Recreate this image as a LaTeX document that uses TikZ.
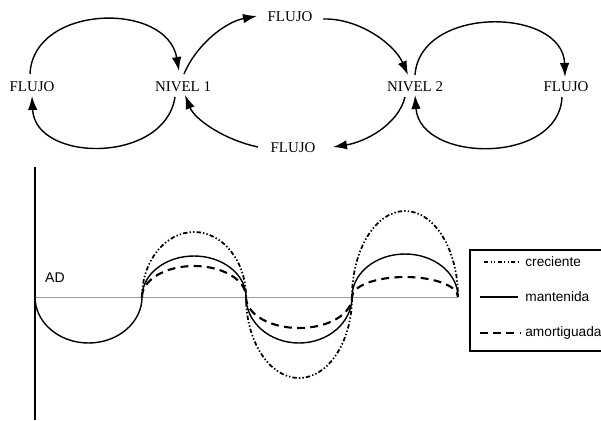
\documentclass[tikz,border=0pt]{standalone}
\usepackage{fontspec}
\setmainfont{Liberation Serif}
\newfontfamily\legendfont{Liberation Sans}
\usetikzlibrary{arrows.meta}

\begin{document}
\begin{tikzpicture}[
    x=0.02cm, y=0.02cm,
    every node/.style={font=\fontsize{8.5}{10}\selectfont},
    var/.style={inner sep=1pt, minimum height=0.4cm},
    flow/.style={-{Latex[length=0.28cm, width=0.19cm]}, line width=0.8pt},
    axis/.style={line width=0.9pt},
    zeroline/.style={draw=gray!80, line width=0.5pt},
    mantenida/.style={line width=0.8pt},
    creciente/.style={line width=1pt, dash pattern=on 2.5pt off 1.2pt on 0.8pt off 1.2pt on 0.8pt off 1.2pt},
    amortiguada/.style={line width=1.2pt, dash pattern=on 4.5pt off 3pt},
    legtext/.style={font=\legendfont\fontsize{7.8}{9}\selectfont, anchor=west, inner sep=0pt},
]
\useasboundingbox (0,0) rectangle (601,-420);
% LEVELS AND FLOWS
\node[var] (fl) at (32,-87) {FLUJO};
\node[var] (n1) at (183,-87) {NIVEL 1};
\node[var] (ft) at (290,-17) {FLUJO};
\node[var] (fb) at (293,-148) {FLUJO};
\node[var] (n2) at (415,-87) {NIVEL 2};
\node[var] (fr) at (566,-87) {FLUJO};
% left loop
\draw[flow] ([shift={(-2,13)}]fl.center) .. controls +(3,70) and +(-12,70) .. ([shift={(-4,16)}]n1.center);
\draw[flow] ([shift={(-8,-10)}]n1.center) .. controls +(-10,-67) and +(3,-67) .. ([shift={(0,-9)}]fl.center);
% between the two levels
\draw[flow] ([shift={(1,13)}]n1.center) .. controls +(12,29) and +(-32,-6) .. ([shift={(-33,1)}]ft.center);
\draw[flow] ([shift={(-35,1)}]fb.center) .. controls +(-33,7) and +(10,-25) .. ([shift={(2,-8)}]n1.center);
\draw[flow] ([shift={(33,-2)}]ft.center) .. controls +(37,1) and +(-13,30) .. ([shift={(-7,12)}]n2.center);
\draw[flow] ([shift={(-10,-10)}]n2.center) .. controls +(-7,-28) and +(32,5) .. ([shift={(40,1)}]fb.center);
% right loop
\draw[flow] ([shift={(0,12)}]n2.center) .. controls +(5,70) and +(-2,70) .. ([shift={(-1,10)}]fr.center);
\draw[flow] ([shift={(-4,-10)}]fr.center) .. controls +(-3,-68) and +(5,-68) .. ([shift={(0,-8)}]n2.center);
% OSCILLATIONS
\draw[axis] (35,-167) -- (35,-420);
\draw[zeroline] (35,-297) -- (458,-297);
\node[font=\legendfont\fontsize{8}{9}\selectfont] (ad) at (55,-278) {AD};
\draw[mantenida] (35,-297)
    arc[start angle=180, end angle=360, x radius=53.5, y radius=46]
    arc[start angle=180, end angle=0, x radius=52, y radius=41]
    arc[start angle=180, end angle=360, x radius=53, y radius=46]
    arc[start angle=180, end angle=0, x radius=53, y radius=43];
\draw[creciente] (142,-297)
    arc[start angle=180, end angle=0, x radius=52, y radius=65]
    arc[start angle=180, end angle=360, x radius=53, y radius=81]
    arc[start angle=180, end angle=0, x radius=53, y radius=86];
\draw[amortiguada] (142,-297)
    arc[start angle=180, end angle=0, x radius=52, y radius=31]
    arc[start angle=180, end angle=360, x radius=53, y radius=31]
    arc[start angle=180, end angle=0, x radius=53, y radius=20];
% LEGEND
\draw[line width=0.8pt] (601,-250) -- (470,-250) -- (470,-351) -- (601,-351);
\node[legtext] (lc) at (525,-262) {creciente};
\node[legtext] (lm) at (525,-297) {mantenida};
\node[legtext] (la) at (525,-333) {amortiguada};
\draw[creciente] (484,-262) -- (518,-262);
\draw[mantenida] (480,-297) -- (518,-297);
\draw[amortiguada] (480,-333) -- (520,-333);
\end{tikzpicture}
\end{document}
